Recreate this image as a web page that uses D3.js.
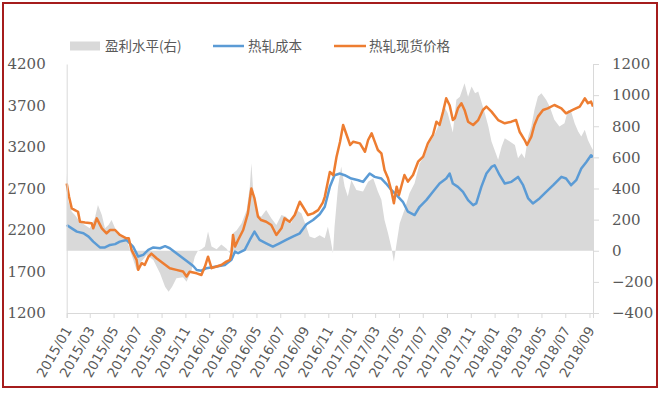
<!DOCTYPE html>
<html>
<head>
<meta charset="utf-8">
<script src="https://cdn.jsdelivr.net/npm/d3@7"></script>
<style>
  body { margin: 0; background: #fff; }
  svg { display: block; }
</style>
</head>
<body>
<div id="chart"></div>
<script>
// 盈利水平 (right axis)
var profitDates = ["2015-01-01","2015-01-04","2015-01-14","2015-01-22","2015-02-04","2015-03-01","2015-03-14","2015-03-22","2015-04-01","2015-04-09","2015-04-18","2015-04-26","2015-05-05","2015-05-17","2015-06-03","2015-06-12","2015-06-29","2015-07-08","2015-07-25","2015-08-11","2015-08-28","2015-09-10","2015-09-19","2015-09-28","2015-10-09","2015-10-26","2015-11-04","2015-11-17","2015-11-25","2015-12-03","2015-12-12","2015-12-21","2015-12-29","2016-01-07","2016-01-20","2016-02-01","2016-02-14","2016-02-23","2016-03-02","2016-03-11","2016-03-24","2016-04-06","2016-04-14","2016-04-18","2016-04-22","2016-05-01","2016-05-13","2016-05-26","2016-06-08","2016-06-21","2016-07-04","2016-07-16","2016-07-29","2016-08-11","2016-08-24","2016-09-06","2016-09-14","2016-09-27","2016-10-10","2016-10-23","2016-10-31","2016-11-07","2016-11-13","2016-11-17","2016-11-26","2016-12-04","2016-12-13","2016-12-21","2016-12-30","2017-01-12","2017-01-29","2017-02-11","2017-02-24","2017-03-08","2017-03-17","2017-03-25","2017-04-03","2017-04-12","2017-04-18","2017-04-25","2017-05-03","2017-05-15","2017-05-28","2017-06-10","2017-06-23","2017-07-05","2017-07-18","2017-07-31","2017-08-13","2017-08-25","2017-09-03","2017-09-16","2017-09-25","2017-10-04","2017-10-16","2017-10-25","2017-11-03","2017-11-12","2017-11-20","2017-11-28","2017-12-07","2017-12-16","2017-12-24","2018-01-01","2018-01-10","2018-01-19","2018-01-27","2018-02-09","2018-02-22","2018-03-02","2018-03-11","2018-03-19","2018-03-28","2018-04-05","2018-04-13","2018-04-22","2018-05-01","2018-05-13","2018-05-22","2018-06-03","2018-06-16","2018-06-29","2018-07-08","2018-07-16","2018-07-25","2018-08-03","2018-08-11","2018-08-20","2018-08-28","2018-09-05","2018-09-10"];
var profitValues = [498,327,251,230,187,145,209,294,230,145,166,198,145,91,80,5,-123,-80,-27,-59,-145,-231,-263,-231,-177,-170,-199,-123,-38,0,10,27,123,27,10,40,15,-16,113,130,177,262,412,563,412,241,219,262,209,166,230,219,177,262,241,155,91,80,100,80,155,70,-16,155,412,541,412,348,455,391,380,444,466,380,327,198,113,16,-70,48,177,262,370,434,563,605,691,745,820,927,884,760,970,990,1077,990,1055,1012,1023,959,884,798,702,648,584,670,723,702,680,595,627,595,734,798,905,991,1012,970,927,841,798,820,905,894,820,766,734,777,712,670,648];

// 热轧成本 (left axis)
var costDates = ["2015-01-01","2015-01-14","2015-01-27","2015-02-13","2015-02-26","2015-03-10","2015-03-27","2015-04-09","2015-04-22","2015-05-05","2015-05-17","2015-06-03","2015-06-20","2015-07-03","2015-07-16","2015-07-29","2015-08-11","2015-08-28","2015-09-10","2015-09-22","2015-10-09","2015-10-26","2015-11-12","2015-11-21","2015-11-30","2015-12-12","2015-12-25","2016-01-20","2016-02-10","2016-02-27","2016-03-07","2016-03-15","2016-04-01","2016-04-14","2016-04-26","2016-05-09","2016-05-26","2016-06-12","2016-06-29","2016-07-16","2016-08-02","2016-08-20","2016-09-06","2016-09-23","2016-10-10","2016-10-23","2016-11-05","2016-11-17","2016-12-01","2016-12-13","2016-12-30","2017-01-17","2017-01-29","2017-02-15","2017-02-28","2017-03-17","2017-03-29","2017-04-12","2017-04-25","2017-05-11","2017-05-24","2017-06-10","2017-06-23","2017-07-10","2017-07-27","2017-08-13","2017-08-30","2017-09-08","2017-09-16","2017-09-29","2017-10-12","2017-10-25","2017-11-07","2017-11-15","2017-11-28","2017-12-11","2017-12-24","2018-01-01","2018-01-14","2018-01-27","2018-02-13","2018-03-02","2018-03-15","2018-03-28","2018-04-09","2018-04-26","2018-05-13","2018-05-31","2018-06-21","2018-07-03","2018-07-16","2018-07-29","2018-08-11","2018-08-24","2018-09-05","2018-09-10"];
var costValues = [2260,2220,2180,2160,2120,2060,1990,1990,2020,2030,2060,2080,2000,1880,1900,1960,1990,1980,2005,1980,1920,1860,1800,1766,1718,1710,1740,1760,1778,1840,1940,1920,1960,2080,2180,2080,2040,2000,2040,2080,2120,2160,2270,2320,2390,2480,2720,2860,2880,2860,2820,2800,2780,2880,2840,2820,2760,2680,2620,2540,2420,2380,2480,2560,2660,2760,2820,2880,2760,2720,2660,2560,2500,2520,2720,2880,2960,2980,2860,2760,2780,2840,2740,2580,2520,2580,2660,2740,2840,2820,2740,2800,2940,3020,3100,3080];

// 热轧现货价格 (left axis)
var priceDates = ["2015-01-01","2015-01-07","2015-01-14","2015-01-22","2015-01-30","2015-02-04","2015-02-17","2015-03-06","2015-03-10","2015-03-19","2015-04-01","2015-04-13","2015-04-22","2015-05-05","2015-05-17","2015-06-03","2015-06-09","2015-06-16","2015-06-29","2015-07-03","2015-07-12","2015-07-20","2015-07-29","2015-08-06","2015-08-19","2015-09-05","2015-09-22","2015-10-09","2015-10-26","2015-11-04","2015-11-12","2015-11-30","2015-12-12","2015-12-21","2015-12-29","2016-01-07","2016-01-20","2016-02-01","2016-02-14","2016-02-23","2016-02-27","2016-03-02","2016-03-07","2016-03-15","2016-03-28","2016-04-09","2016-04-18","2016-04-26","2016-05-05","2016-05-13","2016-05-26","2016-06-08","2016-06-21","2016-07-04","2016-07-12","2016-07-25","2016-08-07","2016-08-20","2016-08-28","2016-09-10","2016-09-23","2016-10-06","2016-10-18","2016-10-23","2016-11-05","2016-11-14","2016-11-22","2016-12-01","2016-12-09","2016-12-18","2016-12-27","2017-01-04","2017-01-21","2017-02-03","2017-02-11","2017-02-20","2017-02-28","2017-03-08","2017-03-17","2017-03-25","2017-04-03","2017-04-12","2017-04-18","2017-04-25","2017-05-01","2017-05-15","2017-05-24","2017-06-06","2017-06-19","2017-07-02","2017-07-14","2017-07-27","2017-08-05","2017-08-13","2017-08-22","2017-08-30","2017-09-08","2017-09-16","2017-09-21","2017-09-29","2017-10-08","2017-10-16","2017-10-25","2017-11-07","2017-11-20","2017-12-02","2017-12-11","2017-12-24","2018-01-10","2018-01-27","2018-02-13","2018-02-25","2018-03-06","2018-03-19","2018-03-25","2018-04-05","2018-04-13","2018-04-22","2018-05-05","2018-05-17","2018-06-03","2018-06-21","2018-07-03","2018-07-20","2018-08-07","2018-08-20","2018-08-28","2018-09-05","2018-09-10"];
var priceValues = [2760,2600,2460,2440,2420,2300,2290,2280,2220,2340,2220,2160,2200,2200,2140,2100,2100,1960,1840,1720,1800,1780,1876,1916,1860,1800,1740,1720,1700,1640,1698,1678,1658,1759,1878,1740,1760,1778,1819,1839,1919,2140,2000,2080,2200,2400,2700,2580,2360,2320,2300,2260,2140,2220,2340,2300,2380,2540,2480,2380,2400,2440,2530,2600,2900,2860,3080,3260,3465,3345,3224,3264,3244,3143,3284,3365,3264,3164,3124,2923,2823,2662,2522,2722,2622,2863,2783,2863,3023,3083,3244,3345,3505,3465,3626,3787,3700,3525,3546,3666,3727,3646,3505,3465,3525,3646,3686,3626,3525,3486,3505,3525,3384,3284,3224,3324,3465,3566,3646,3666,3706,3666,3606,3646,3686,3787,3727,3747,3686];

var xTickLabels = ["2015/01","2015/03","2015/05","2015/07","2015/09","2015/11","2016/01","2016/03","2016/05","2016/07","2016/09","2016/11","2017/01","2017/03","2017/05","2017/07","2017/09","2017/11","2018/01","2018/03","2018/05","2018/07","2018/09"];
var leftTicks = [1200,1700,2200,2700,3200,3700,4200];
var rightTicks = [-400,-200,0,200,400,600,800,1000,1200];
var legendLabels = ["盈利水平(右)","热轧成本","热轧现货价格"];

var colors = {profit: "#d9d9d9", cost: "#5b9bd5", price: "#ed7d31"};

var width = 663, height = 393;
var margin = {top: 64, right: 70, bottom: 80, left: 66.7};

var parseDate = d3.timeParse("%Y-%m-%d"),
    parseTick = d3.timeParse("%Y/%m");

function pairs(dates, values) {
  return dates.map(function(d, i) { return {date: parseDate(d), value: values[i]}; });
}
var profit = pairs(profitDates, profitValues),
    cost = pairs(costDates, costValues),
    price = pairs(priceDates, priceValues);

var svg = d3.select("#chart")
  .append("svg")
  .attr("width", width)
  .attr("height", height);

svg.append("rect")
  .attr("width", width).attr("height", height)
  .attr("fill", "#fff");

var x = d3.scaleTime()
  .domain([parseDate("2015-01-01"), parseDate("2018-09-10")])
  .range([margin.left, width - margin.right]);

var yLeft = d3.scaleLinear()
  .domain([1200, 4200])
  .range([height - margin.bottom, margin.top]);

var yRight = d3.scaleLinear()
  .domain([-400, 1200])
  .range([height - margin.bottom, margin.top]);

// profit area
svg.append("path")
  .datum(profit)
  .attr("fill", colors.profit)
  .attr("d", d3.area()
    .x(function(d) { return x(d.date); })
    .y0(yRight(0))
    .y1(function(d) { return yRight(d.value); }));

var lineLeft = d3.line()
  .x(function(d) { return x(d.date); })
  .y(function(d) { return yLeft(d.value); });

svg.append("path")
  .datum(cost)
  .attr("fill", "none")
  .attr("stroke", colors.cost)
  .attr("stroke-width", 2.5)
  .attr("stroke-linejoin", "round")
  .attr("d", lineLeft);

svg.append("path")
  .datum(price)
  .attr("fill", "none")
  .attr("stroke", colors.price)
  .attr("stroke-width", 2.5)
  .attr("stroke-linejoin", "round")
  .attr("d", lineLeft);

// axes
var axisColor = "#d9d9d9", textColor = "#595959";

var gx = svg.append("g")
  .attr("transform", "translate(0," + yLeft(1200) + ")")
  .call(d3.axisBottom(x)
    .tickValues(xTickLabels.map(function(t) { return parseTick(t); }))
    .tickSize(5)
    .tickFormat(d3.timeFormat("%Y/%m")));
gx.select(".domain").attr("stroke", axisColor);
gx.selectAll(".tick line").attr("stroke", axisColor);
gx.selectAll(".tick text")
  .attr("fill", textColor)
  .attr("font-family", "'DejaVu Sans', sans-serif")
  .attr("font-size", 13.5)
  .attr("text-anchor", "end")
  .attr("dy", null)
  .attr("y", 0)
  .attr("transform", "translate(5,17) rotate(-60)");

var gl = svg.append("g")
  .attr("transform", "translate(" + margin.left + ",0)")
  .call(d3.axisLeft(yLeft).tickValues(leftTicks).tickSize(0).tickPadding(21)
    .tickFormat(d3.format("d")));
gl.select(".domain").attr("stroke", axisColor);
gl.selectAll(".tick text")
  .attr("fill", textColor)
  .attr("font-family", "'DejaVu Serif', serif")
  .attr("font-size", 15);

var gr = svg.append("g")
  .attr("transform", "translate(" + (width - margin.right) + ",0)")
  .call(d3.axisRight(yRight).tickValues(rightTicks).tickSize(6).tickPadding(13)
    .tickFormat(d3.format("d")));
gr.select(".domain").attr("stroke", axisColor);
gr.selectAll(".tick line").attr("stroke", axisColor);
gr.selectAll(".tick text")
  .attr("fill", textColor)
  .attr("font-family", "'DejaVu Serif', serif")
  .attr("font-size", 15);

// legend
var legend = svg.append("g")
  .attr("font-family", "'Noto Sans CJK SC', sans-serif")
  .attr("font-size", 13.5)
  .attr("fill", textColor);

legend.append("rect")
  .attr("x", 70).attr("y", 41.5).attr("width", 30).attr("height", 9)
  .attr("fill", colors.profit);
legend.append("text").attr("x", 105).attr("y", 51).text(legendLabels[0]);

legend.append("line")
  .attr("x1", 213).attr("x2", 244).attr("y1", 46).attr("y2", 46)
  .attr("stroke", colors.cost).attr("stroke-width", 2.5);
legend.append("text").attr("x", 248).attr("y", 51).text(legendLabels[1]);

legend.append("line")
  .attr("x1", 334).attr("x2", 366).attr("y1", 46).attr("y2", 46)
  .attr("stroke", colors.price).attr("stroke-width", 2.5);
legend.append("text").attr("x", 369).attr("y", 51).text(legendLabels[2]);

// outer frame
svg.append("rect")
  .attr("x", 3).attr("y", 3)
  .attr("width", 654).attr("height", 384)
  .attr("fill", "none")
  .attr("stroke", "#a51c1c")
  .attr("stroke-width", 2);
</script>
</body>
</html>
